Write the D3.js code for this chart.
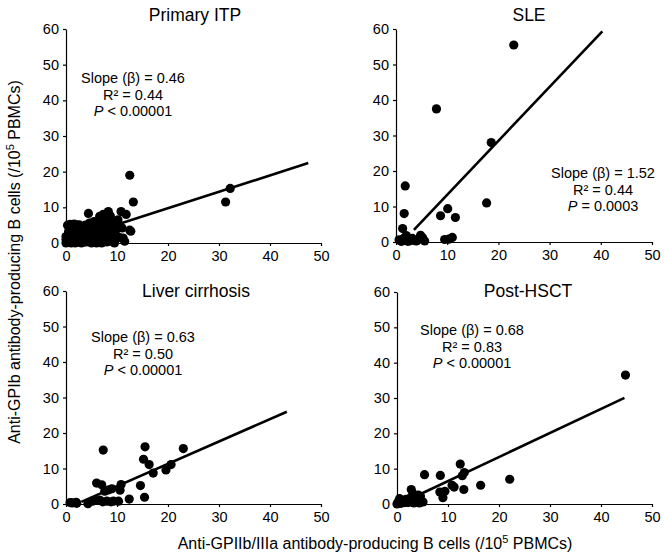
<!DOCTYPE html>
<meta charset="utf-8">
<head>
<style>
body { margin: 0; background: #fff; }
svg { font-family: "Liberation Sans", Arial, sans-serif; }
.tick text { font-size: 14.5px; fill: #000; }
.domain, .tick line { stroke: #000; stroke-width: 1.2px; }
</style>
</head>
<body>
<div id="chart"></div>
<script src="https://d3js.org/d3.v7.min.js"></script>
<script>

// panel titles
var titles = ["Primary ITP", "SLE", "Liver cirrhosis", "Post-HSCT"];

// points [anti-GPIIb/IIIa, anti-GPIb] per panel
var itpPoints = [
  [0,0],[0,1],[0,1.8],[0.3,0.3],[0.6,0.8],[1,0],[1,2.5],[1.2,4.8],[1.5,1.2],[2,0.3],
  [2,3.5],[2.2,5],[2.5,1.8],[3,0],[3,2.8],[3.2,4.5],[3.5,1],[3.8,5],[4,0.3],[4,2.2],
  [4.3,3.8],[4.4,8.3],[4.8,1.5],[5,0],[5,4.5],[5.3,2.8],[5.5,6],[5.8,0.8],[6,3.5],[6,5.5],
  [6.3,1.8],[6.6,7.5],[6.7,0.2],[6.8,4.2],[7,2.5],[7,6.3],[7.3,8],[7.5,1],[7.6,5],[7.8,3.3],
  [8.3,8.8],[8,0.3],[8.2,6.8],[8.4,2],[8.5,4.5],[8.7,7.6],[9,1],[9,3],[9.3,5.5],[9.5,0],
  [9.8,2.2],[10,4],[10.2,6.5],[10.5,1.5],[10.8,8.8],[11,4.2],[11.2,1.4],[11.5,0.5],[11.8,8],[12.5,3.6],
  [12.5,19],[12.7,3.3],[13.2,11.5],[31.3,11.5],[32.2,15.3],
  [1.8,0],[2.8,0.8],[0.5,3.2],[1.5,3.8],[4.5,0.8],[5.5,1.2],[6,0],[7,0],[8.8,0.5],[0.3,5],
  [0.8,5.2],[1.6,5.3],[2.6,5.1],[3.4,0.2],[4.6,5.6],[5.2,3.3],[6.2,2.4],[7.2,4.6],[8,5.8],[9.4,3.8]
];
var slePoints = [
  [23,55.5],[7.9,37.5],[18.6,28],[17.7,11],[1.8,15.8],[1.6,8],[1.3,3.8],[8.7,7.4],[10.1,9.4],[11.6,6.9],
  [9.5,0.7],[10.3,0.8],[11,1.3],[0.6,0.6],[1,0.2],[1.5,1],[2,1.8],[2.6,0.3],[3.2,1],[4,0.3],
  [4.8,1.9],[5.2,1.2],[5.6,0.3],[1.2,0.3],[2.3,0.2],[3.6,0.4],[4.5,0.8]
];
var liverPoints = [
  [7.3,15.2],[15.5,16.1],[23,15.6],[15.2,12.6],[16.3,11.1],[17.1,8.7],[19.6,9.6],[20.6,11.1],[14.6,5.2],[15.4,1.9],
  [12.4,1.4],[6,5.9],[7,5.4],[7.6,3.6],[9,4.3],[10.8,5.5],[10.6,3.9],[8.4,4],
  [0.8,0.4],[1.2,0.3],[2,0.5],[2.1,0.2],[4.3,0.1],[5.2,0.8],[5.6,1],[6.6,1.1],[7.2,0.6],[8,0.8],
  [8.8,0.6],[9.3,0.8],[10.3,0.8]
];
var hsctPoints = [
  [44.8,36.5],[22.1,7],[16.4,5.3],[13.1,4.1],[12.4,11.3],[13.2,8.9],[12.8,8],[8.5,8.1],[5.4,8.3],[10.8,5.3],
  [11.2,4.8],[8.4,3.4],[9,1.8],[9.4,3.6],[2.8,4.1],[3.1,3],[4.2,2.5],[4.6,2.2],
  [0.2,0.6],[0.5,1.5],[1.2,1.1],[1.8,1.3],[2.5,1.6],[3.5,1.1],[4.1,1.6],[5.1,0.6],[2.2,0.4],[4.4,0.3],
  [0,0],[0.8,0.2],[1.5,0.4],[3.3,0.3]
];
var allPoints = [itpPoints, slePoints, liverPoints, hsctPoints];

// regression fits: slope, intercept, x range
var slopes = [0.46, 1.52, 0.63, 0.68];
var intercepts = [0.55, -1.9, -1.3, -0.3];
var fitStart = [0, 3.5, 3, 4];
var fitEnd = [47.5, 40.3, 43.3, 44.6];

// annotations
var slopeText = ["Slope (\u03b2) = 0.46", "Slope (\u03b2) = 1.52", "Slope (\u03b2) = 0.63", "Slope (\u03b2) = 0.68"];
var r2Text = ["R\u00b2 = 0.44", "R\u00b2 = 0.44", "R\u00b2 = 0.50", "R\u00b2 = 0.83"];
var pText = ["< 0.00001", "= 0.0003", "< 0.00001", "< 0.00001"];

var xTicks = [0, 10, 20, 30, 40, 50];
var yTicks = [0, 10, 20, 30, 40, 50, 60];

// panel geometry (pixels)
var layout = [
  {x0: 66, x1: 321, y0: 243, y1: 29, tx: 195, ty: 21, ax: 133, ay: 83},
  {x0: 396, x1: 652, y0: 242, y1: 29, tx: 529, ty: 21, ax: 603, ay: 178},
  {x0: 66, x1: 321, y0: 504, y1: 291, tx: 196, ty: 297, ax: 143, ay: 342},
  {x0: 397, x1: 652, y0: 504, y1: 292, tx: 528, ty: 297, ax: 472, ay: 335}
];

var svg = d3.select("#chart").append("svg")
  .attr("width", 664)
  .attr("height", 557);

layout.forEach(function(L, i) {
  var x = d3.scaleLinear().domain([0, 50]).range([L.x0, L.x1]);
  var y = d3.scaleLinear().domain([0, 60]).range([L.y0, L.y1]);
  var g = svg.append("g");

  g.append("g")
    .attr("transform", "translate(0," + L.y0 + ")")
    .call(d3.axisBottom(x).tickValues(xTicks).tickSize(3).tickSizeOuter(0).tickPadding(5));
  g.append("g")
    .attr("transform", "translate(" + L.x0 + ",0)")
    .call(d3.axisLeft(y).tickValues(yTicks).tickSize(3).tickSizeOuter(0).tickPadding(4));

  g.selectAll(".dot")
    .data(allPoints[i])
    .enter().append("circle")
      .attr("cx", function(d) { return x(d[0]); })
      .attr("cy", function(d) { return y(d[1]); })
      .attr("r", 4.6)
      .attr("fill", "#000");

  g.append("line")
    .attr("x1", x(fitStart[i]))
    .attr("y1", y(slopes[i] * fitStart[i] + intercepts[i]))
    .attr("x2", x(fitEnd[i]))
    .attr("y2", y(slopes[i] * fitEnd[i] + intercepts[i]))
    .attr("stroke", "#000")
    .attr("stroke-width", 2.6);

  g.append("text")
    .attr("x", L.tx).attr("y", L.ty)
    .attr("text-anchor", "middle")
    .style("font-size", "17.5px")
    .text(titles[i]);

  var ann = g.append("g").style("font-size", "14.5px").attr("text-anchor", "middle");
  ann.append("text").attr("x", L.ax).attr("y", L.ay).text(slopeText[i]);
  ann.append("text").attr("x", L.ax).attr("y", L.ay + 16.5).text(r2Text[i]);
  var p = ann.append("text").attr("x", L.ax).attr("y", L.ay + 33);
  p.append("tspan").style("font-style", "italic").text("P");
  p.append("tspan").text(" " + pText[i]);
});

// axis titles
var xt = svg.append("text")
  .attr("x", 375).attr("y", 549)
  .attr("text-anchor", "middle")
  .style("font-size", "16px");
xt.append("tspan").text("Anti-GPIIb/IIIa antibody-producing B cells (/10");
xt.append("tspan").attr("dy", -6).style("font-size", "11px").text("5");
xt.append("tspan").attr("dy", 6).text(" PBMCs)");

var yt = svg.append("text")
  .attr("transform", "translate(20,262) rotate(-90)")
  .attr("text-anchor", "middle")
  .style("font-size", "16px");
yt.append("tspan").text("Anti-GPIb antibody-producing B cells (/10");
yt.append("tspan").attr("dy", -6).style("font-size", "11px").text("5");
yt.append("tspan").attr("dy", 6).text(" PBMCs)");

</script>
</body>
